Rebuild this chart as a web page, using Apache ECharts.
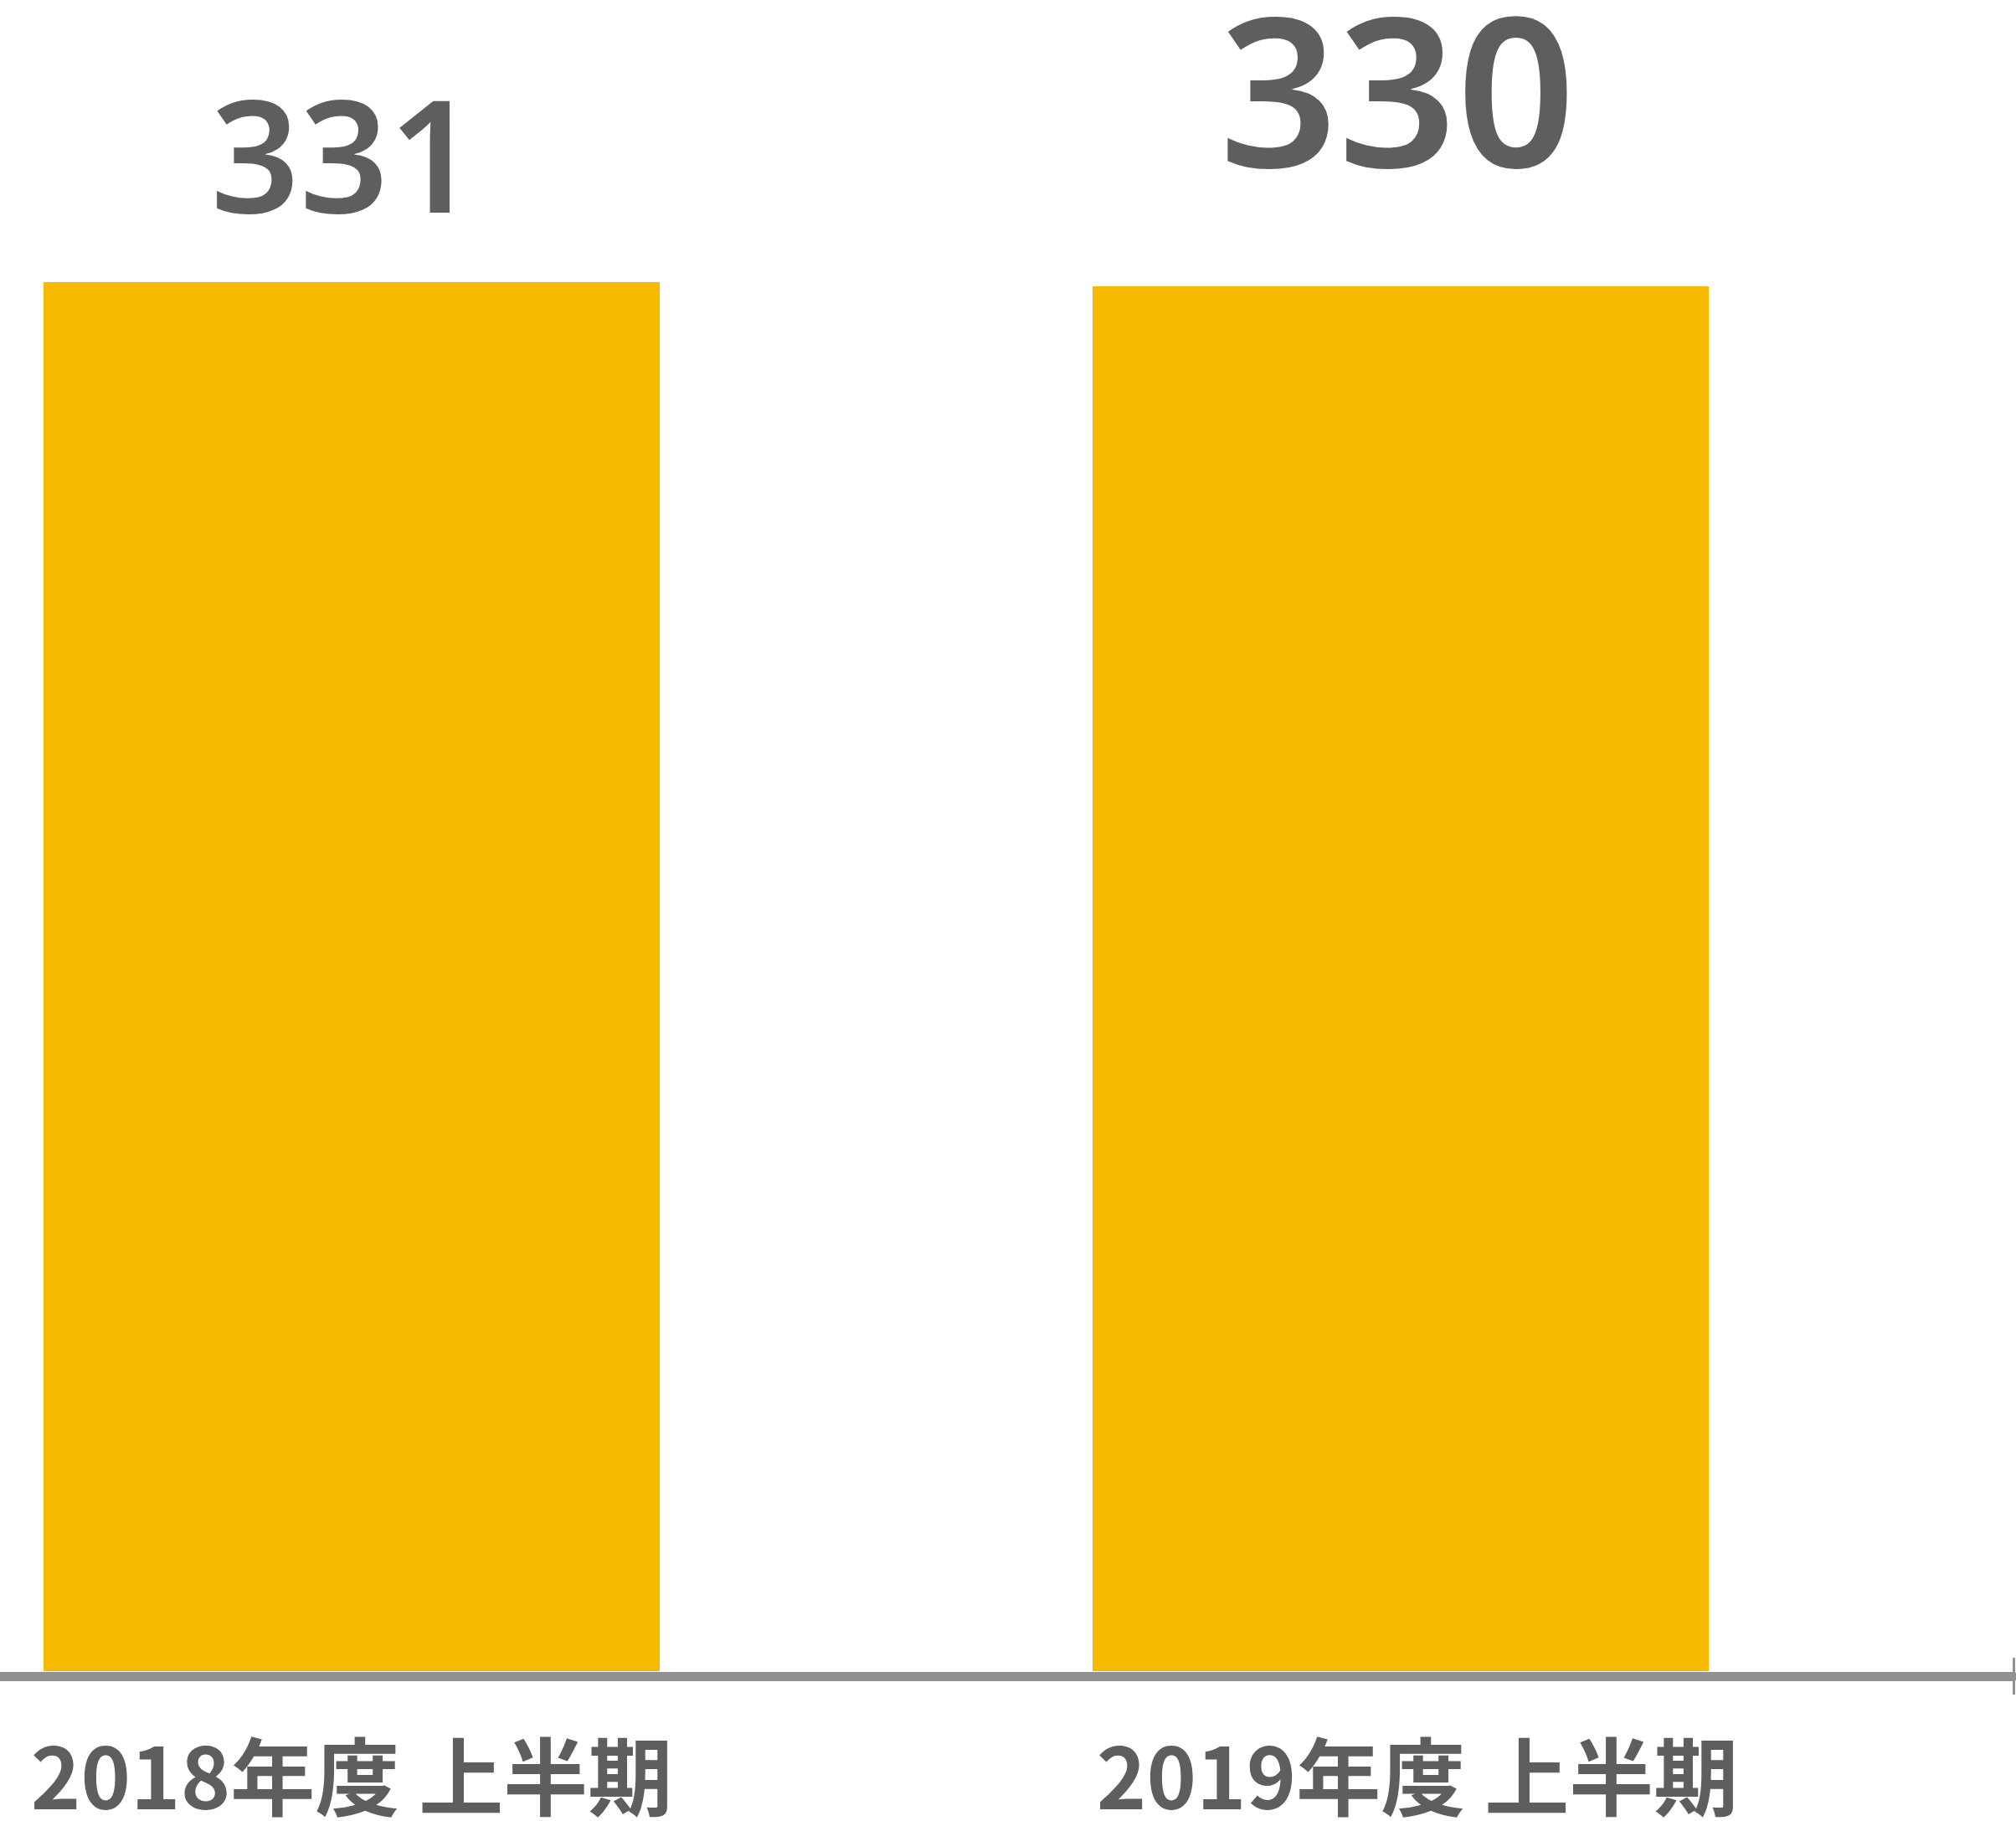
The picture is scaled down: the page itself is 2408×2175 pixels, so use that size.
<!DOCTYPE html>
<html>
<head>
<meta charset="utf-8">
<script src="https://cdn.jsdelivr.net/npm/echarts@6/dist/echarts.min.js"></script>
<style>
    html, body { margin: 0; padding: 0; background: #fff; }
    #chart { width: 2408px; height: 2175px; }
</style>
</head>
<body>
<div id="chart"></div>
<script>
    // data
    var categories = ['2018年度 上半期', '2019年度 上半期'];
    var values = [331, 330];

    // label styling per bar
    var labelSizes = [186, 248];
    var labelGaps = [43, 89];
    var labelShift = [-9, -4];
    var catPad = [[0, 0, 0, 0], [0, 0, 0, 40]];

    var textColor = '#5e5e5e';
    var barColor = '#f6bb00';
    var lineColor = '#919191';

    var myChart = echarts.init(document.getElementById('chart'));

    var barData = values.map(function(v, i){
        return {
            value: v,
            label: {
                fontSize: labelSizes[i],
                distance: labelGaps[i],
                offset: [labelShift[i], 0]
            }
        };
    });
    var catData = categories.map(function(c, i){
        return { value: c, textStyle: { padding: catPad[i] } };
    });

    var option = {
        animation: false,
        backgroundColor: '#ffffff',
        grid: [
            // bar centres sit on the axis ends (boundaryGap false)
            { left: 420, right: 735, top: 292, bottom: 179 },
            // full width grid only for the base line
            { left: 0, right: 3, top: 292, bottom: 173 }
        ],
        xAxis: [
            {
                type: 'category',
                gridIndex: 0,
                data: catData,
                boundaryGap: false,
                axisLine: { show: false },
                axisTick: { show: false },
                axisLabel: {
                    margin: 76,
                    fontSize: 101,
                    fontWeight: 'bold',
                    color: textColor,
                    fontFamily: '"Noto Sans CJK JP", sans-serif'
                }
            },
            {
                type: 'value',
                gridIndex: 1,
                min: 0,
                max: 1,
                position: 'bottom',
                splitLine: { show: false },
                axisLabel: { show: false },
                axisLine: { show: true, lineStyle: { color: lineColor, width: 11 } },
                axisTick: { show: true, customValues: [1], length: 22, lineStyle: { color: lineColor, width: 3 } }
            },
            {
                type: 'value',
                gridIndex: 1,
                min: 0,
                max: 1,
                position: 'bottom',
                splitLine: { show: false },
                axisLabel: { show: false },
                axisLine: { show: false },
                axisTick: { show: true, inside: true, customValues: [1], length: 22, lineStyle: { color: lineColor, width: 3 } }
            }
        ],
        yAxis: [
            { type: 'value', gridIndex: 0, min: 0, max: 340, show: false },
            { type: 'value', gridIndex: 1, min: 0, max: 1, show: false }
        ],
        series: [
            {
                type: 'bar',
                xAxisIndex: 0,
                yAxisIndex: 0,
                data: barData,
                barWidth: 736,
                clip: false,
                itemStyle: { color: barColor },
                label: {
                    show: true,
                    position: 'top',
                    color: textColor,
                    fontWeight: 600,
                    fontFamily: '"Noto Sans", sans-serif'
                }
            }
        ]
    };

    myChart.setOption(option);
</script>
</body>
</html>
